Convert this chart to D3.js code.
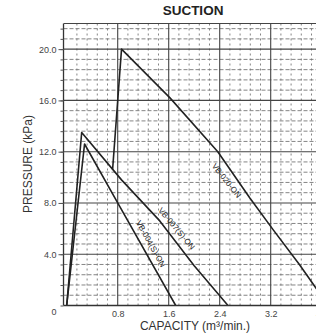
<!DOCTYPE html>
<html>
<head>
<meta charset="utf-8">
<script src="https://cdn.jsdelivr.net/npm/d3@7"></script>
<style>
  body { margin: 0; background: #fff; }
  text { font-family: "Liberation Sans", Arial, sans-serif; }
</style>
</head>
<body>
<div id="chart"></div>
<script>
// curve data (capacity m3/min, pressure kPa)
const seriesNames = ["VB-020-ON", "VB-007(S)-ON", "VB-004(S)-ON"];
const vb020Capacity = [0.72, 0.86, 1.62, 2.37, 2.87, 3.24, 3.65, 3.89, 4.10];
const vb020Pressure = [10.6, 20.0, 16.2, 12.0, 8.4, 5.9, 3.2, 1.5, 0];
const vb007Capacity = [0, 0.235, 0.86, 1.46, 2.0, 2.53];
const vb007Pressure = [0, 13.5, 9.8, 6.6, 3.1, 0];
const vb004Capacity = [0, 0.28, 0.8, 1.71];
const vb004Pressure = [0, 12.6, 8.0, 0];
// where along each curve its name sits
const labelCapacity = [2.62, 1.62, 1.20];
const xTicks = [0.8, 1.6, 2.4, 3.2, 4.0];
const yTicks = [0, 4, 8, 12, 16, 20];

const width = 316, height = 334;

const svg = d3.select("#chart").append("svg")
    .attr("width", width)
    .attr("height", height);

const x = d3.scaleLinear().domain([0, 4]).range([66.7, 321.7]);
const y = d3.scaleLinear().domain([0, 22]).range([305.5, 23.5]);

const plotLeft = x(-0.05), plotTop = y(22), plotBottom = y(0);

svg.append("defs").append("clipPath")
    .attr("id", "plot-clip")
    .append("rect")
    .attr("x", plotLeft)
    .attr("y", plotTop - 2)
    .attr("width", width - plotLeft)
    .attr("height", plotBottom - plotTop + 4);

const plot = svg.append("g").attr("clip-path", "url(#plot-clip)");

// minor grid (dashed)
const xMinor = d3.range(1, 29).filter(i => i % 5 !== 0).map(i => i * 0.16);
const yMinor = d3.range(1, 28).filter(i => i % 5 !== 0).map(i => i * 0.8);

plot.selectAll(".x-minor")
    .data(xMinor)
    .enter()
    .append("line")
    .attr("class", "x-minor")
    .attr("x1", d => x(d)).attr("x2", d => x(d))
    .attr("y1", plotTop).attr("y2", plotBottom)
    .attr("stroke", "#777")
    .attr("stroke-width", 0.9)
    .attr("stroke-dasharray", "2,3");

plot.selectAll(".y-minor")
    .data(yMinor)
    .enter()
    .append("line")
    .attr("class", "y-minor")
    .attr("x1", plotLeft).attr("x2", width)
    .attr("y1", d => y(d)).attr("y2", d => y(d))
    .attr("stroke", "#777")
    .attr("stroke-width", 0.9)
    .attr("stroke-dasharray", "4,2");

// major grid
plot.selectAll(".x-major")
    .data(xTicks)
    .enter()
    .append("line")
    .attr("class", "x-major")
    .attr("x1", d => x(d)).attr("x2", d => x(d))
    .attr("y1", plotTop).attr("y2", plotBottom)
    .attr("stroke", "#444")
    .attr("stroke-width", 1.1);

plot.selectAll(".y-major")
    .data(yTicks.filter(d => d > 0).concat([22]))
    .enter()
    .append("line")
    .attr("class", "y-major")
    .attr("x1", plotLeft).attr("x2", width)
    .attr("y1", d => y(d)).attr("y2", d => y(d))
    .attr("stroke", "#444")
    .attr("stroke-width", 1.1);

// frame
svg.append("line")
    .attr("x1", plotLeft).attr("x2", plotLeft)
    .attr("y1", plotTop).attr("y2", plotBottom)
    .attr("stroke", "#333").attr("stroke-width", 1.3);
svg.append("line")
    .attr("x1", plotLeft).attr("x2", width)
    .attr("y1", plotBottom).attr("y2", plotBottom)
    .attr("stroke", "#333").attr("stroke-width", 1.3);

// y axis: minor ticks, then labelled ticks
svg.append("g")
    .attr("transform", "translate(" + plotLeft + ",0)")
    .call(d3.axisLeft(y).tickValues(d3.range(0, 28).map(i => i * 0.8)).tickSize(3).tickFormat(""))
    .call(g => g.select(".domain").remove())
    .call(g => g.selectAll("line").attr("stroke", "#555"));

const yAxis = svg.append("g")
    .attr("transform", "translate(" + plotLeft + ",0)")
    .call(d3.axisLeft(y)
        .tickValues(yTicks)
        .tickSize(5)
        .tickPadding(2)
        .tickFormat(d => d === 0 ? "0" : d3.format(".1f")(d)));
yAxis.select(".domain").remove();
yAxis.selectAll("line").attr("stroke", "#555");
yAxis.selectAll("text")
    .attr("fill", "#444")
    .style("font-size", "9px")
    .style("font-family", "'Liberation Sans', Arial, sans-serif");
yAxis.selectAll(".tick").filter(d => d === 0).select("line").remove();
yAxis.selectAll(".tick").filter(d => d === 0).select("text").attr("dy", "0.95em");

const xAxis = svg.append("g")
    .attr("transform", "translate(0," + plotBottom + ")")
    .call(d3.axisBottom(x).tickValues(xTicks).tickSize(0).tickPadding(5).tickFormat(d3.format(".1f")));
xAxis.select(".domain").remove();
xAxis.selectAll("text")
    .attr("fill", "#444")
    .style("font-size", "9px")
    .style("font-family", "'Liberation Sans', Arial, sans-serif");

// curves
const curves = [
    { name: seriesNames[0], pts: vb020Capacity.map((c, i) => [c, vb020Pressure[i]]), dy: 12 },
    { name: seriesNames[1], pts: vb007Capacity.map((c, i) => [c, vb007Pressure[i]]), dy: -6 },
    { name: seriesNames[2], pts: vb004Capacity.map((c, i) => [c, vb004Pressure[i]]), dy: -6 }
];

const line = d3.line().x(d => x(d[0])).y(d => y(d[1]));

plot.selectAll(".curve")
    .data(curves)
    .enter()
    .append("path")
    .attr("class", "curve")
    .attr("d", d => line(d.pts))
    .attr("fill", "none")
    .attr("stroke", "#222")
    .attr("stroke-width", 1.6)
    .attr("stroke-linejoin", "round");

// curve names along the falling side, angle taken from the peak-to-end slope
curves.forEach((c, k) => {
    const cap = labelCapacity[k];
    const peak = d3.maxIndex(c.pts, d => d[1]);
    let i = peak;
    while (i < c.pts.length - 2 && c.pts[i + 1][0] < cap) i++;
    const a = c.pts[i], b = c.pts[i + 1];
    const t = (cap - a[0]) / (b[0] - a[0]);
    const p = a[1] + t * (b[1] - a[1]);
    const s = c.pts[peak], e = c.pts[c.pts.length - 1];
    const ang = Math.atan2(y(e[1]) - y(s[1]), x(e[0]) - x(s[0])) * 180 / Math.PI;
    plot.append("text")
        .attr("transform", "translate(" + x(cap) + "," + y(p) + ") rotate(" + ang + ")")
        .attr("text-anchor", "middle")
        .attr("dy", c.dy)
        .attr("fill", "#222")
        .style("font-size", "8px")
        .text(c.name);
});

// titles
svg.append("text")
    .attr("x", 193)
    .attr("y", 15)
    .attr("text-anchor", "middle")
    .style("font-size", "13.5px")
    .style("font-weight", "bold")
    .attr("fill", "#222")
    .text("SUCTION");

svg.append("text")
    .attr("transform", "translate(32,164) rotate(-90)")
    .attr("text-anchor", "middle")
    .style("font-size", "12px")
    .attr("fill", "#333")
    .text("PRESSURE (kPa)");

svg.append("text")
    .attr("x", 195)
    .attr("y", 330)
    .attr("text-anchor", "middle")
    .style("font-size", "12px")
    .attr("fill", "#333")
    .text("CAPACITY (m³/min.)");
</script>
</body>
</html>
